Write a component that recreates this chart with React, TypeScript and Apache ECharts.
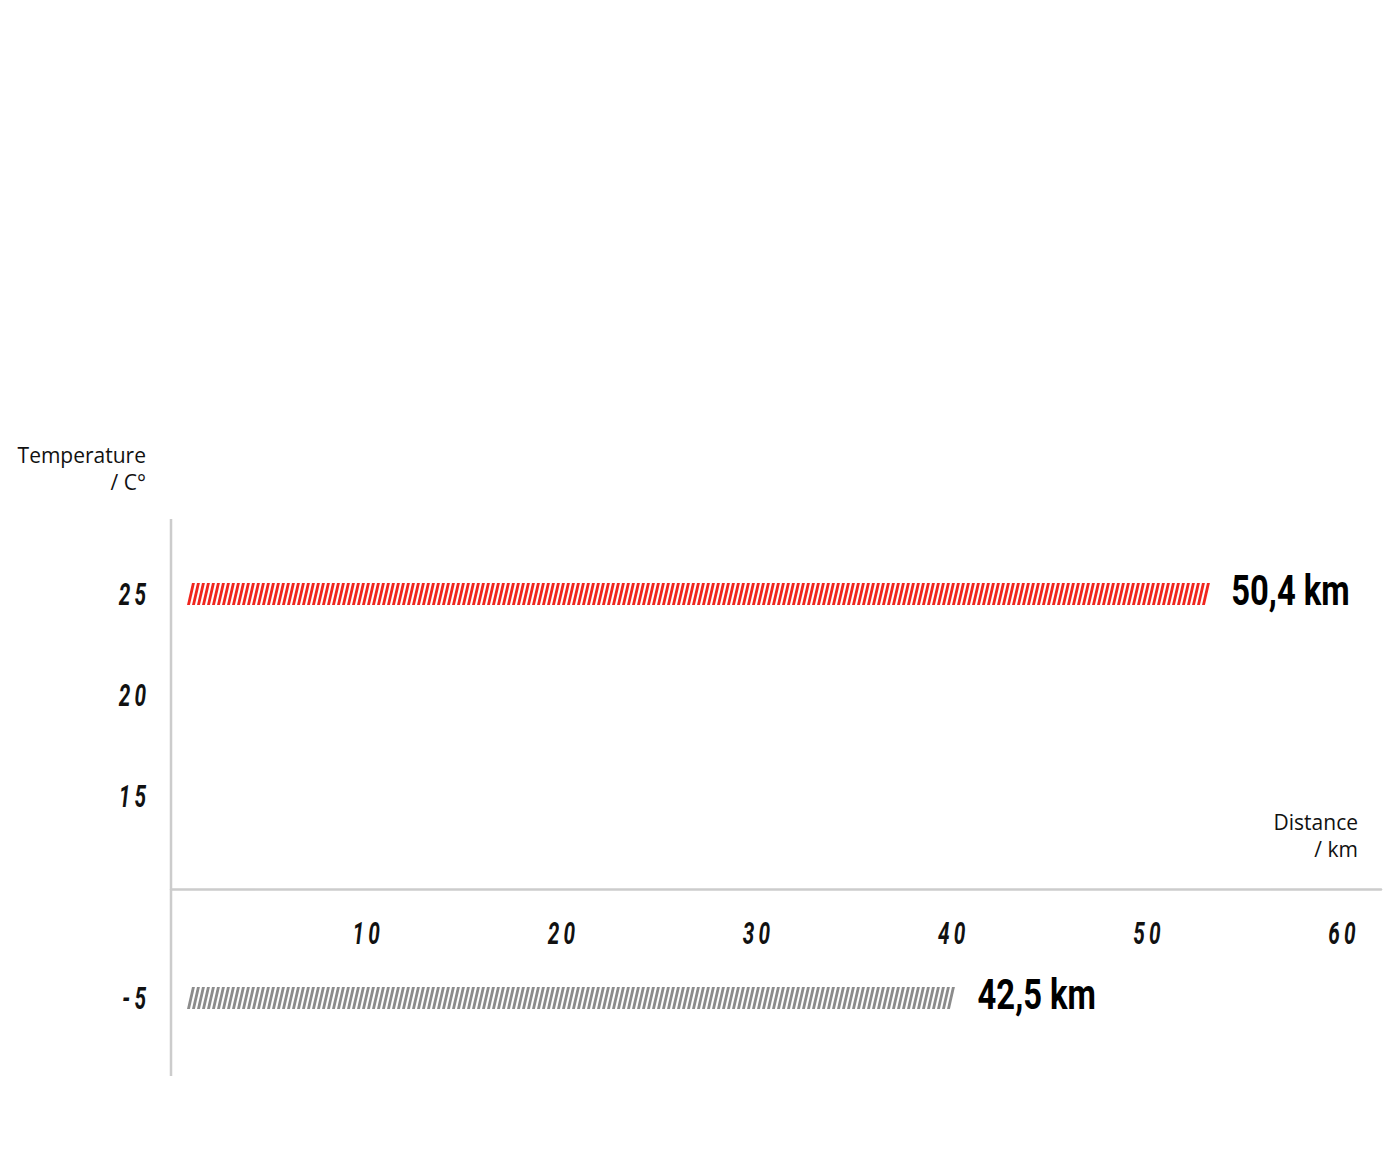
import React, { useEffect, useRef } from "react";
import * as echarts from "echarts";

// y axis is a set of temperature slots, the empty one is where the distance axis sits
const temperatureCategories = ["-5", "", "15", "20", "25"];
const distanceTicks = [10, 20, 30, 40, 50, 60];

const barTemperatures = ["25", "-5"];
const barEnds = [53.2, 40.2]; // km, where the hatched bars stop on the x axis
const barLabels = ["50,4 km", "42,5 km"];
const barColors = ["#f0261e", "#8c8c8c"];

const tickFont = "Roboto, 'Liberation Sans', sans-serif";
const titleFont = "'Open Sans', 'Roboto', sans-serif";

const AXIS_Y = 889; // where the distance axis crosses the chart
const GRID_BOTTOM = 1048.5;

const spaced = (s: string) => s.split("").join("\u2009");

// condensed italic tick text (no condensed font installed, so squeeze it)
const tickText = (text: string, x: number, y: number, align: string) => ({
  type: "text",
  x,
  y,
  scaleX: 0.65,
  style: {
    text,
    x: 0,
    y: 0,
    align,
    verticalAlign: "middle",
    fontFamily: tickFont,
    fontSize: 32,
    fontWeight: "bold",
    fontStyle: "italic",
    fill: "#111111",
  },
});

const App: React.FC = () => {
  const chartRef = useRef<HTMLDivElement | null>(null);

  useEffect(() => {
    document.body.style.margin = "0";
    if (!chartRef.current) return;
    const chart = echarts.init(chartRef.current, undefined, { renderer: "svg" });

    const options = {
      animation: false,
      backgroundColor: "#ffffff",
      grid: { left: 171, right: 19, top: 543.5, bottom: 1176 - GRID_BOTTOM, containLabel: false },
      xAxis: {
        type: "value",
        min: 0,
        max: 62,
        interval: 10,
        offset: -(GRID_BOTTOM - AXIS_Y),
        axisLine: { show: true, lineStyle: { color: "#cccccc", width: 2.5 } },
        axisTick: { show: false },
        splitLine: { show: false },
        axisLabel: { show: false },
      },
      yAxis: {
        type: "category",
        data: temperatureCategories,
        axisLine: { show: false },
        axisTick: { show: false },
        splitLine: { show: false },
        axisLabel: { show: false },
      },
      graphic: [
        {
          type: "line",
          shape: { x1: 171, y1: 519, x2: 171, y2: 1076 },
          style: { stroke: "#cccccc", lineWidth: 2.5 },
          z: 1,
        },
        {
          type: "text",
          style: {
            text: "Temperature\n/ C°",
            x: 146,
            y: 468,
            align: "right",
            verticalAlign: "middle",
            fontFamily: titleFont,
            fontSize: 21,
            lineHeight: 27,
            fill: "#111111",
          },
        },
        {
          type: "text",
          style: {
            text: "Distance\n/ km",
            x: 1358,
            y: 835,
            align: "right",
            verticalAlign: "middle",
            fontFamily: titleFont,
            fontSize: 21,
            lineHeight: 27,
            fill: "#111111",
          },
        },
      ],
      series: [
        {
          // temperature tick labels
          type: "custom",
          data: temperatureCategories.filter((c) => c !== "").map((c) => [0, c]),
          renderItem: (params: any, api: any) => {
            const [x, y] = api.coord([0, api.value(1)]);
            return tickText(spaced(temperatureCategories[api.value(1)]), x - 25, y, "right");
          },
        },
        {
          // distance tick labels
          type: "custom",
          data: distanceTicks.map((d) => [d, ""]),
          renderItem: (params: any, api: any) => {
            const [x] = api.coord([api.value(0), api.value(1)]);
            return tickText(spaced(String(distanceTicks[params.dataIndex])), x, AXIS_Y + 44, "center");
          },
        },
        {
          // hatched bars with their distance labels
          type: "custom",
          data: barTemperatures.map((t, i) => [barEnds[i], t]),
          renderItem: (params: any, api: any) => {
            const i = params.dataIndex;
            const cat = api.value(1);
            const [x0, yc] = api.coord([0, cat]);
            const [x1] = api.coord([api.value(0), cat]);
            const h = 22;
            const pitch = 5;
            const thick = 2.9;
            const slant = 5;
            const children: any[] = [];
            for (let x = x0 + 16; x + thick + slant <= x1 + 3; x += pitch) {
              children.push({
                type: "polygon",
                shape: {
                  points: [
                    [x + slant, yc - h / 2],
                    [x + slant + thick, yc - h / 2],
                    [x + thick, yc + h / 2],
                    [x, yc + h / 2],
                  ],
                },
                style: { fill: barColors[i] },
              });
            }
            children.push({
              type: "text",
              x: x1 + 22,
              y: yc - 3,
              scaleX: 0.78,
              style: {
                text: barLabels[i],
                x: 0,
                y: 0,
                align: "left",
                verticalAlign: "middle",
                fontFamily: tickFont,
                fontSize: 42,
                fontWeight: "bold",
                fill: "#000000",
              },
            });
            return { type: "group", children };
          },
        },
      ],
    };

    chart.setOption(options);
    return () => {
      chart.dispose();
    };
  }, []);

  return <div ref={chartRef} style={{ width: "1400px", height: "1176px" }} />;
};

export default App;
